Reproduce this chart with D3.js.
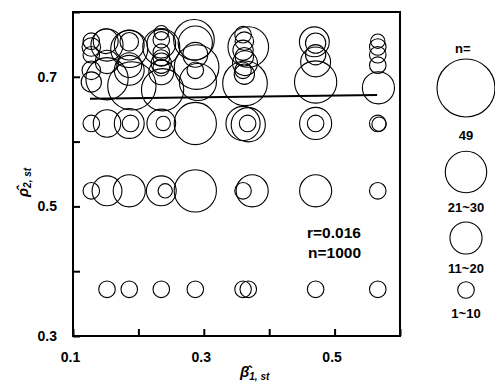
<!DOCTYPE html>
<html>
<head>
<meta charset="utf-8">
<script src="https://cdn.jsdelivr.net/npm/d3@7"></script>
<style>
	body { margin: 0; background: #fff; }
	text { font-family: "Liberation Sans", Arial, sans-serif; fill: #000; }
</style>
</head>
<body>
<div id="chart"></div>
<script>
// estimated beta1 / rho2 pairs and how many samples fall on each
var beta1 = [
	0.152, 0.186, 0.235, 0.287, 0.360, 0.368, 0.471, 0.566,
	0.128, 0.152, 0.186, 0.235, 0.241, 0.287, 0.360, 0.374, 0.471, 0.566,
	0.128, 0.152, 0.186, 0.188, 0.235, 0.238, 0.287, 0.360, 0.367, 0.368, 0.471, 0.471, 0.566, 0.568,
	0.128, 0.128, 0.128, 0.128, 0.128,
	0.150, 0.152, 0.152, 0.152,
	0.186, 0.186, 0.186, 0.186, 0.186, 0.190,
	0.235, 0.235, 0.235, 0.235, 0.235, 0.235, 0.235, 0.235, 0.235, 0.237,
	0.285, 0.287, 0.287, 0.289, 0.287, 0.291,
	0.360, 0.362, 0.368, 0.360, 0.362, 0.363, 0.360, 0.362, 0.363,
	0.469, 0.471, 0.471, 0.471, 0.471,
	0.566, 0.566, 0.566, 0.566, 0.567
];
var rho2 = [
	0.372, 0.372, 0.372, 0.372, 0.372, 0.372, 0.372, 0.372,
	0.524, 0.524, 0.524, 0.524, 0.524, 0.524, 0.524, 0.524, 0.524, 0.524,
	0.628, 0.628, 0.628, 0.628, 0.628, 0.628, 0.628, 0.628, 0.628, 0.626, 0.628, 0.628, 0.628, 0.627,
	0.755, 0.746, 0.734, 0.710, 0.692,
	0.755, 0.749, 0.723, 0.697,
	0.754, 0.749, 0.743, 0.718, 0.710, 0.686,
	0.768, 0.757, 0.751, 0.746, 0.738, 0.729, 0.721, 0.714, 0.707, 0.680,
	0.757, 0.752, 0.734, 0.715, 0.710, 0.692,
	0.765, 0.755, 0.746, 0.741, 0.731, 0.721, 0.710, 0.704, 0.690,
	0.754, 0.752, 0.734, 0.723, 0.692,
	0.755, 0.746, 0.734, 0.718, 0.683
];
var counts = [
	4, 4, 4, 4, 4, 4, 4, 4,
	4, 13, 15, 13, 3, 26, 4, 15, 15, 4,
	4, 11, 13, 4, 12, 3, 26, 17, 4, 17, 15, 4, 4, 3,
	4, 5, 4, 5, 6,
	9, 15, 8, 26,
	5, 13, 20, 9, 13, 34,
	3, 4, 12, 20, 4, 4, 6, 4, 9, 26,
	24, 17, 9, 29, 4, 20,
	4, 5, 24, 6, 5, 9, 4, 6, 29,
	13, 6, 6, 13, 26,
	3, 4, 4, 4, 15
];

var fitX = [0.126, 0.565];
var fitY = [0.666, 0.672];

var xTicks = [0.1, 0.2, 0.3, 0.4, 0.5, 0.6];
var xLabels = ['0.1', '', '0.3', '', '0.5', ''];
var yTicks = [0.3, 0.4, 0.5, 0.6, 0.7, 0.8];
var yLabels = ['0.3', '', '0.5', '', '0.7', ''];

var legendN = [49, 25, 15, 4];
var legendText = ['49', '21~30', '11~20', '1~10'];

(function () {

	var svg = d3.select('#chart').append('svg')
		.attr('width', 495)
		.attr('height', 384);

	var x = d3.scaleLinear().domain([0.1, 0.6]).range([73, 400]);
	var y = d3.scaleLinear().domain([0.3, 0.8]).range([336, 12]);
	var r = d3.scaleSqrt().domain([0, 49]).range([0, 29]);

	var points = beta1.map(function (b, i) {
		return { b: b, p: rho2[i], n: counts[i] };
	});

	// bubbles
	svg.append('g').selectAll('circle')
		.data(points).enter()
		.append('circle')
		.attr('cx', function (d) { return x(d.b); })
		.attr('cy', function (d) { return y(d.p); })
		.attr('r', function (d) { return r(d.n); })
		.attr('fill', 'none')
		.attr('stroke', '#000')
		.attr('stroke-width', 1.1);

	// fitted line
	svg.append('line')
		.attr('x1', x(fitX[0])).attr('y1', y(fitY[0]))
		.attr('x2', x(fitX[1])).attr('y2', y(fitY[1]))
		.attr('stroke', '#000')
		.attr('stroke-width', 2);

	// frame
	svg.append('rect')
		.attr('x', x(0.1)).attr('y', y(0.8))
		.attr('width', x(0.6) - x(0.1))
		.attr('height', y(0.3) - y(0.8))
		.attr('fill', 'none')
		.attr('stroke', '#000')
		.attr('stroke-width', 2);

	var xAxis = d3.axisBottom(x).tickValues(xTicks)
		.tickSize(-7).tickPadding(16)
		.tickFormat(function (d, i) { return xLabels[i]; });
	var gx = svg.append('g').attr('transform', 'translate(0,' + y(0.3) + ')').call(xAxis);

	var yAxis = d3.axisLeft(y).tickValues(yTicks)
		.tickSize(-7).tickPadding(16)
		.tickFormat(function (d, i) { return yLabels[i]; });
	var gy = svg.append('g').attr('transform', 'translate(' + x(0.1) + ',0)').call(yAxis);

	[gx, gy].forEach(function (g) {
		g.select('.domain').remove();
		g.selectAll('line').attr('stroke', '#000').attr('stroke-width', 2);
		g.selectAll('text')
			.attr('font-size', 14)
			.attr('font-weight', 'bold')
			.attr('font-family', '"Liberation Sans", Arial, sans-serif')
			.attr('fill', '#000');
	});
	gx.selectAll('.tick text').attr('dx', -3);

	// axis titles
	var xt = svg.append('text')
		.attr('x', 240).attr('y', 377)
		.attr('font-size', 15).attr('font-style', 'italic').attr('font-weight', 'bold');
	xt.append('tspan').text('\u03b2\u0302');
	xt.append('tspan').attr('font-size', 10).attr('dy', 3).text('1, st');

	var yt = svg.append('text')
		.attr('transform', 'translate(28,197) rotate(-90)')
		.attr('font-size', 15).attr('font-style', 'italic').attr('font-weight', 'bold');
	yt.append('tspan').text('\u03c1\u0302');
	yt.append('tspan').attr('font-size', 10).attr('dy', 3).text('2, st');

	// stats
	svg.append('text').attr('x', 307).attr('y', 238)
		.attr('font-size', 15.5).attr('font-weight', 'bold').text('r=0.016');
	svg.append('text').attr('x', 308).attr('y', 258)
		.attr('font-size', 15.5).attr('font-weight', 'bold').text('n=1000');

	// size legend
	var lg = svg.append('g');
	lg.append('text').attr('x', 455).attr('y', 53)
		.attr('font-size', 13).attr('font-weight', 'bold').text('n=');
	var ly = [88, 172, 238, 290];
	var ty = [140, 212, 273, 318];
	legendN.forEach(function (n, i) {
		lg.append('circle')
			.attr('cx', 466).attr('cy', ly[i]).attr('r', r(n))
			.attr('fill', 'none').attr('stroke', '#000').attr('stroke-width', 1.1);
		lg.append('text')
			.attr('x', 466).attr('y', ty[i])
			.attr('text-anchor', 'middle')
			.attr('font-size', 13).attr('font-weight', 'bold')
			.text(legendText[i]);
	});

})();
</script>
</body>
</html>
